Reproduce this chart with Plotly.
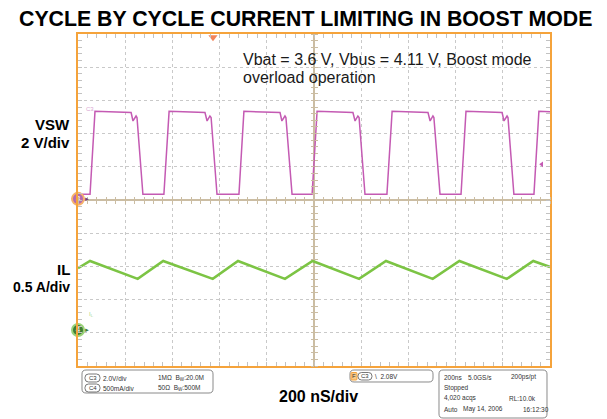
import plotly.graph_objects as go

# ---------------- data ----------------
title_text = "CYCLE BY CYCLE CURRENT LIMITING IN BOOST MODE"
note_line1 = "Vbat = 3.6 V, Vbus = 4.11 V, Boost mode"
note_line2 = "overload operation"
vsw_name = "VSW"
vsw_scale = "2 V/div"
il_name = "IL"
il_scale = "0.5 A/div"
timebase_label = "200 nS/div"

time_range_ns = [-1000, 1000]      # 10 div x 200 ns/div
vsw_range_v = [-10.07, 9.93]       # 10 div x 2 V/div
il_range_a = [-0.542, 4.458]       # 10 div x 0.5 A/div
grid_range_div = [-5, 5]

# switch-node voltage (V) vs time (ns)
vsw_t_ns = [-1000, -949, -928, -775, -767, -754, -750, -725,
            -636, -614, -462, -453, -441, -436, -411,
            -318, -297, -144, -136, -123, -119, -93,
            -8, 13, 165, 174, 186, 191, 216,
            309, 331, 483, 492, 504, 508, 534,
            623, 644, 797, 805, 818, 822, 847,
            932, 953, 1000]
vsw_v = [0.27, 0.27, 5.27, 5.20, 4.69, 4.99, 4.90, 0.27,
         0.27, 5.27, 5.20, 4.69, 4.99, 4.90, 0.27,
         0.27, 5.27, 5.20, 4.69, 4.99, 4.90, 0.27,
         0.27, 5.27, 5.20, 4.69, 4.99, 4.90, 0.27,
         0.27, 5.27, 5.20, 4.69, 4.99, 4.90, 0.27,
         0.27, 5.27, 5.20, 4.69, 4.99, 4.90, 0.27,
         0.27, 5.27, 5.25]

# inductor current (A) vs time (ns)
il_t_ns = [-1000, -949, -747, -639, -429, -322, -123, -6,
           191, 305, 503, 616, 817, 929, 1000]
il_a = [0.93, 1.04, 0.77, 1.04, 0.77, 1.04, 0.77, 1.04,
        0.77, 1.04, 0.77, 1.04, 0.77, 1.04, 0.95]

trigger_time_ns = -428
trigger_level_v = 2.08

# scope readout texts
ch_box_rows = [("C3", "2.0V/div", "1MΩ  B<sub>W</sub>:20.0M"),
               ("C4", "500mA/div", "50Ω  B<sub>W</sub>:500M")]
trig_box_text = "\\  2.08V"
acq_rows = [[("200ns", 0), ("5.0GS/s", 24), ("200ps/pt", 67)],
            [("Stopped", 0)],
            [("4,020 acqs", 0), ("RL:10.0k", 65)],
            [("Auto", 0), ("May 14, 2006", 19), ("16:12:30", 79)]]

# ---------------- styling / geometry ----------------
PAGE_OFF = 8                 # default page margin of the html body
W, H = 607 - PAGE_OFF, 419 - PAGE_OFF
L, R, T, B = 78, 550, 34, 366   # plot area in page pixels
FONT = "Liberation Sans, Arial, sans-serif"
ORANGE = "#F5A33B"
TAN = "#cbbda3"
GRID = "#c9c9c9"
TICK = "#c2c2c2"
PINK = "#C45AB3"
GREEN = "#7CC444"


def px(x):
    return (x - L) / (R - L)


def py(y):
    return (B - y) / (B - T)


def ann(text, x, y, size, bold=False, xanchor="left", color="#111111"):
    return dict(text=f"<b>{text}</b>" if bold else text, x=px(x), y=py(y),
                xref="paper", yref="paper", xanchor=xanchor, yanchor="middle",
                showarrow=False, borderpad=0,
                font=dict(size=size, color=color, family=FONT))


def rrect(x0, y0, x1, y1, r, color="#8a8a8a", width=1, fill=None):
    def P(x, y):
        return f"{px(x):.5f},{py(y):.5f}"
    path = (f"M {P(x0 + r, y0)} L {P(x1 - r, y0)} Q {P(x1, y0)} {P(x1, y0 + r)} "
            f"L {P(x1, y1 - r)} Q {P(x1, y1)} {P(x1 - r, y1)} L {P(x0 + r, y1)} "
            f"Q {P(x0, y1)} {P(x0, y1 - r)} L {P(x0, y0 + r)} Q {P(x0, y0)} {P(x0 + r, y0)} Z")
    d = dict(type="path", path=path, xref="paper", yref="paper",
             line=dict(color=color, width=width))
    if fill:
        d["fillcolor"] = fill
    return d


fig = go.Figure()

# empty traces so every helper axis gets a subplot
for xa, ya in [("x", "y"), ("x2", "y"), ("x3", "y"), ("x", "y4"), ("x", "y5")]:
    fig.add_trace(go.Scatter(x=[], y=[], xaxis=xa, yaxis=ya, hoverinfo="skip"))

fig.add_trace(go.Scatter(x=vsw_t_ns, y=vsw_v, xaxis="x", yaxis="y2", mode="lines",
                         line=dict(color=PINK, width=1.5)))
fig.add_trace(go.Scatter(x=il_t_ns, y=il_a, xaxis="x", yaxis="y3", mode="lines",
                         line=dict(color=GREEN, width=2.6)))

# channel ground markers
fig.add_trace(go.Scatter(x=[time_range_ns[0]], y=[0], xaxis="x", yaxis="y2",
                         mode="markers+text", text=["3"], textposition="middle center",
                         textfont=dict(size=8, color="white", family=FONT),
                         marker=dict(size=12, color="#b46aae", line=dict(color="#f6b26b", width=2)),
                         cliponaxis=False))
fig.add_trace(go.Scatter(x=[time_range_ns[0]], y=[0], xaxis="x", yaxis="y3",
                         mode="markers+text", text=["4"], textposition="middle center",
                         textfont=dict(size=8, color="white", family=FONT),
                         marker=dict(size=12, color="#3e7d35", line=dict(color="#9bd37a", width=2)),
                         cliponaxis=False))
# trigger position (top) and trigger level (right)
fig.add_trace(go.Scatter(x=[trigger_time_ns], y=[grid_range_div[1] - 0.1], xaxis="x", yaxis="y",
                         mode="markers", marker=dict(symbol="triangle-down", size=8, color="#f2845a"),
                         cliponaxis=False))
fig.add_trace(go.Scatter(x=[time_range_ns[1] - 35], y=[trigger_level_v], xaxis="x", yaxis="y2",
                         mode="markers", marker=dict(symbol="triangle-left", size=5, color=PINK),
                         cliponaxis=False))

common_main = dict(showgrid=True, gridcolor=GRID, griddash="dot", gridwidth=1,
                   zeroline=True, zerolinecolor=TAN, zerolinewidth=1.6,
                   showline=True, linecolor=ORANGE, linewidth=2, mirror="allticks",
                   ticks="inside", ticklen=4, tickcolor=TICK, tickwidth=1,
                   showticklabels=False, fixedrange=True)
cross = dict(showgrid=False, zeroline=False, showline=False, ticks="outside",
             ticklen=3, tickcolor=TAN, tickwidth=1, showticklabels=False, fixedrange=True)

fig.update_layout(
    width=W, height=H,
    margin=dict(l=L - PAGE_OFF, r=W - (R - PAGE_OFF), t=T - PAGE_OFF, b=H - (B - PAGE_OFF)),
    paper_bgcolor="white", plot_bgcolor="white", showlegend=False,
    xaxis=dict(range=time_range_ns, dtick=200, tick0=0,
               minor=dict(dtick=40, ticklen=3, tickcolor=TICK, ticks="inside", showgrid=False),
               **common_main),
    yaxis=dict(range=grid_range_div, dtick=1, tick0=0,
               minor=dict(dtick=0.2, ticklen=3, tickcolor=TICK, ticks="inside", showgrid=False),
               **common_main),
    yaxis2=dict(range=vsw_range_v, overlaying="y", visible=False, fixedrange=True),
    yaxis3=dict(range=il_range_a, overlaying="y", visible=False, fixedrange=True),
    xaxis2=dict(range=time_range_ns, overlaying="x", anchor="free", position=0.5, side="bottom",
                dtick=200, tick0=0, minor=dict(dtick=40, ticklen=3, ticks="outside", tickcolor=TAN), **cross),
    xaxis3=dict(range=time_range_ns, overlaying="x", anchor="free", position=0.5, side="top",
                dtick=200, tick0=0, minor=dict(dtick=40, ticklen=3, ticks="outside", tickcolor=TAN), **cross),
    yaxis4=dict(range=grid_range_div, overlaying="y", anchor="free", position=0.5, side="left",
                dtick=1, tick0=0, minor=dict(dtick=0.2, ticklen=3, ticks="outside", tickcolor=TAN), **cross),
    yaxis5=dict(range=grid_range_div, overlaying="y", anchor="free", position=0.5, side="right",
                dtick=1, tick0=0, minor=dict(dtick=0.2, ticklen=3, ticks="outside", tickcolor=TAN), **cross),
)

anns = [
    ann(title_text, 305, 19.5, 21.3, bold=True, xanchor="center", color="#000000"),
    ann(note_line1, 242, 59, 16, color="#1a1a1a"),
    ann(note_line2, 242, 77.3, 16, color="#1a1a1a"),
    ann(vsw_name, 71, 125, 15, bold=True, xanchor="right", color="#000000"),
    ann(vsw_scale, 71, 142, 15, bold=True, xanchor="right", color="#000000"),
    ann(il_name, 71, 269, 15, bold=True, xanchor="right", color="#000000"),
    ann(il_scale, 71, 286.5, 14, bold=True, xanchor="right", color="#000000"),
    ann(timebase_label, 318, 396.5, 16, bold=True, xanchor="center", color="#000000"),
    ann("C3", 90, 109, 6, xanchor="center", color="#d9a6d2"),
    ann("I<sub>L</sub>", 91, 314, 6, xanchor="center", color="#a9d98a"),
]
shapes = [
    rrect(82, 370, 213, 393, 4),
    rrect(350, 370, 433, 382, 4),
    rrect(439, 370, 547, 418, 4),
    rrect(351, 372.5, 357, 380, 1, color=ORANGE, width=1, fill="#f8c98a"),
    rrect(358, 372.5, 372, 380, 3.5, color="#555555", width=0.8),
]
# small scope arrows next to ground markers
anns.append(dict(text="►", x=time_range_ns[0], y=0, xref="x", yref="y2", xshift=9,
                 showarrow=False, font=dict(size=6, color="#7a3c75", family=FONT)))
anns.append(dict(text="►", x=time_range_ns[0], y=0, xref="x", yref="y3", xshift=9,
                 showarrow=False, font=dict(size=6, color="#3e7d35", family=FONT)))

for i, (ch, scale, imp) in enumerate(ch_box_rows):
    yy = 378 + 10 * i
    shapes.append(rrect(85, yy - 4, 100, yy + 4, 3.5, color="#555555", width=0.8))
    anns.append(ann(ch, 92.5, yy, 6, xanchor="center", color="#333333"))
    anns.append(ann(scale, 102, yy, 6.5, color="#333333"))
    anns.append(ann(imp, 157, yy, 6.5, color="#333333"))

anns.append(ann("F", 354, 376.3, 6, xanchor="center", color="#333333"))
anns.append(ann("C3", 365, 376.3, 6, xanchor="center", color="#333333"))
anns.append(ann(trig_box_text, 374, 376.3, 6.5, color="#333333"))

for r_i, row in enumerate(acq_rows):
    yy = 377 + 10.7 * r_i
    for txt, off in row:
        anns.append(ann(txt, 443 + off, yy, 6.5, color="#333333"))

fig.update_layout(annotations=anns, shapes=shapes)
fig.write_html("out.html")
